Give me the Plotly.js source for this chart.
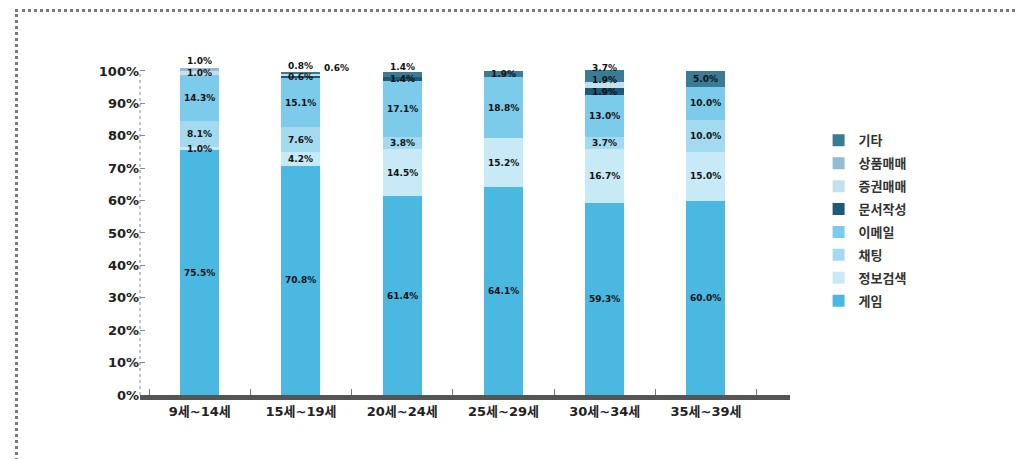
<!DOCTYPE html>
<html>
<head>
<meta charset="utf-8">
<script src="https://cdn.plot.ly/plotly-3.0.1.min.js"></script>
<style>
  html, body { margin: 0; padding: 0; background: #fff; }
  #wrap { position: relative; width: 1016px; height: 459px; overflow: hidden; }
  #chart { position: absolute; left: 0; top: 0; width: 1016px; height: 459px; }
  #frame { position: absolute; left: 15px; top: 9px; width: 1010px; height: 460px;
           border-top: 3px dotted #7a7a7a; border-left: 3px dotted #7a7a7a; pointer-events: none; }
</style>
</head>
<body>
<div id="wrap">
  <div id="chart"></div>
  <div id="frame"></div>
</div>
<script>
// Categories (age groups)
const categories = ['9세~14세', '15세~19세', '20세~24세', '25세~29세', '30세~34세', '35세~39세'];

// Series values (%), stacked bottom -> top
const game     = [75.5, 70.8, 61.4, 64.1, 59.3, 60.0];   // 게임
const search   = [1.0, 4.2, 14.5, 15.2, 16.7, 15.0];     // 정보검색
const chat     = [8.1, 7.6, 3.8, null, 3.7, 10.0];       // 채팅
const email    = [14.3, 15.1, 17.1, 18.8, 13.0, 10.0];   // 이메일
const docs     = [null, 0.6, 1.4, null, 1.9, null];      // 문서작성
const stocks   = [1.0, 0.8, null, null, 1.9, null];      // 증권매매
const goods    = [1.0, null, null, null, null, null];    // 상품매매
const others   = [null, 0.6, 1.4, 1.9, 3.7, 5.0];        // 기타

const seriesNames = ['게임', '정보검색', '채팅', '이메일', '문서작성', '증권매매', '상품매매', '기타'];
const seriesData  = [game, search, chat, email, docs, stocks, goods, others];
const seriesColors = ['#4bb8e2', '#c8eaf7', '#a3daf0', '#7ccbea', '#1d5a7a', '#c3e0ec', '#93bcd1', '#3b7b95'];

// Y tick values
const yTicks = [0, 10, 20, 30, 40, 50, 60, 70, 80, 90, 100];
const yTickText = yTicks.map(v => v + '%');

const FONT = '"DejaVu Sans", "Noto Sans CJK KR", sans-serif';

const traces = seriesNames.map((name, i) => ({
  type: 'bar',
  name: name,
  x: categories,
  y: seriesData[i],
  marker: { color: seriesColors[i], line: { width: 0 } },
  width: 0.385,
  legendrank: 100 - i,
  legendgroup: 'g' + i,
  hoverinfo: 'x+y+name'
}));

// Segment labels computed from the data (stack midpoints, nudged upward to avoid overlap)
const annotations = [];
categories.forEach((cat, ci) => {
  let cum = 0;
  let prevY = -100;
  seriesData.forEach((arr) => {
    const v = arr[ci];
    if (v === null || v === undefined || v === 0) return;
    const mid = cum + v / 2;
    cum += v;
    let y = Math.max(mid, prevY + 3.6);
    let xshift = 0;
    if (y > 103.6) { y = prevY - 0.8; xshift = 36; }
    else prevY = y;
    annotations.push({
      x: cat, y: y, xref: 'x', yref: 'y', xshift: xshift,
      text: '<b>' + v.toFixed(1) + '%</b>',
      showarrow: false,
      font: { family: FONT, size: 9, color: '#111' }
    });
  });
});

const layout = {
  width: 1016, height: 459,
  margin: { l: 140, r: 226, t: 58, b: 64 },
  paper_bgcolor: '#ffffff',
  plot_bgcolor: '#ffffff',
  barmode: 'stack',
  showlegend: true,
  font: { family: FONT, size: 12, color: '#222' },
  xaxis: {
    type: 'category',
    range: [-0.59, 5.83],
    showline: true, linecolor: '#555', linewidth: 5,
    ticks: 'inside', tickson: 'boundaries', ticklen: 6, tickcolor: '#777', tickwidth: 1,
    showgrid: false, zeroline: false,
    tickfont: { family: FONT, size: 13, color: '#222', weight: 'bold' },
    fixedrange: true
  },
  yaxis: {
    range: [0, 104],
    tickvals: yTicks, ticktext: yTickText,
    showline: false,
    ticks: 'inside', ticklen: 5, tickcolor: '#888', tickwidth: 1,
    showgrid: false, zeroline: false,
    tickfont: { family: FONT, size: 13, color: '#222', weight: 'bold' },
    fixedrange: true
  },
  shapes: [
    { type: 'line', xref: 'paper', yref: 'y', x0: 0, x1: 0, y0: 0, y1: 100,
      line: { color: '#888', width: 1, dash: 'dot' } }
  ],
  legend: {
    x: 1.044, xanchor: 'left', y: 0.80, yanchor: 'top',
    traceorder: 'grouped', tracegroupgap: 3,
    font: { family: FONT, size: 13, color: '#333', weight: 'bold' },
    bgcolor: 'rgba(0,0,0,0)'
  },
  annotations: annotations
};

Plotly.newPlot('chart', traces, layout, { displayModeBar: false, staticPlot: true });
</script>
</body>
</html>
